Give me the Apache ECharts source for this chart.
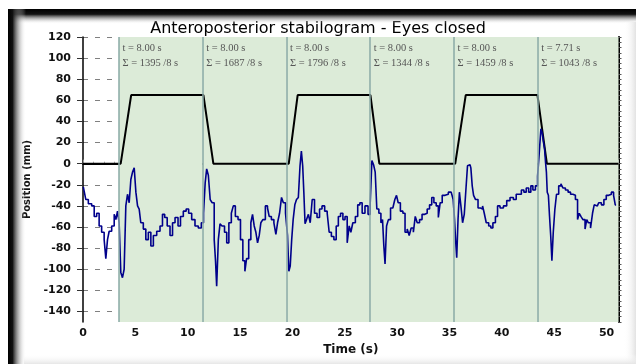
<!DOCTYPE html>
<html>
<head>
<meta charset="utf-8">
<script src="https://cdn.jsdelivr.net/npm/echarts@6/dist/echarts.min.js"></script>
<style>
  html, body { margin: 0; padding: 0; background: #fff; }
  #chart { width: 636px; height: 364px; }
</style>
</head>
<body>
<div id="chart"></div>
<script>
// sway signal (blue)
const sigT = [0.03, 0.19, 0.35, 0.67, 0.99, 1.15, 1.46, 1.62, 1.94, 2.10, 2.26, 2.42, 2.58, 2.90, 3.06, 3.22, 3.37, 3.53, 3.69, 3.85,
  4.01, 4.17, 4.33, 4.49, 4.65, 4.81, 4.97, 5.13, 5.29, 5.44, 5.60, 5.92, 6.08, 6.40, 6.56, 6.88, 7.20, 7.51, 7.67, 7.93,
  8.15, 8.47, 8.63, 8.95, 9.20, 9.42, 9.74, 9.96, 10.22, 10.54, 10.85, 11.17, 11.43, 11.59, 11.75, 11.87, 12.07, 12.22, 12.45, 12.61,
  12.70, 12.83, 13.02, 13.15, 13.40, 13.63, 13.82, 14.04, 14.29, 14.42, 14.68, 14.93, 15.15, 15.38, 15.54, 15.70, 15.95, 16.11, 16.27, 16.43,
  16.59, 16.75, 16.91, 17.06, 17.29, 17.54, 17.70, 17.86, 18.12, 18.34, 18.50, 18.66, 18.88, 19.04, 19.23, 19.45, 19.61, 19.71, 19.87, 19.99,
  20.15, 20.31, 20.47, 20.66, 20.79, 20.92, 21.04, 21.14, 21.27, 21.43, 21.62, 21.78, 22.00, 22.22, 22.48, 22.70, 22.95, 23.21, 23.43, 23.59,
  23.85, 24.07, 24.29, 24.48, 24.71, 24.93, 25.12, 25.34, 25.50, 25.66, 25.88, 26.14, 26.33, 26.55, 26.77, 27.09, 27.35, 27.51, 27.67, 27.83,
  27.98, 28.14, 28.37, 28.53, 28.68, 28.78, 28.91, 29.07, 29.26, 29.48, 29.70, 29.86, 30.02, 30.18, 30.44, 30.66, 30.85, 31.07, 31.23, 31.45,
  31.65, 31.81, 32.03, 32.25, 32.51, 32.76, 32.98, 33.21, 33.40, 33.62, 33.84, 34.03, 34.19, 34.42, 34.73, 35.05, 35.27, 35.43, 35.53, 35.63,
  35.75, 35.88, 36.01, 36.17, 36.33, 36.49, 36.64, 36.80, 36.96, 37.12, 37.22, 37.38, 37.60, 37.85, 38.08, 38.24, 38.40, 38.62, 38.87, 39.03,
  39.26, 39.51, 39.67, 39.99, 40.31, 40.62, 40.94, 41.26, 41.48, 41.74, 41.99, 42.22, 42.44, 42.69, 42.85, 43.08, 43.33, 43.49, 43.65, 43.81,
  43.90, 44.03, 44.13, 44.22, 44.29, 44.38, 44.51, 44.60, 44.73, 44.83, 44.99, 45.14, 45.30, 45.56, 45.72, 45.94, 46.20, 46.45, 46.67, 46.90,
  47.15, 47.31, 47.47, 47.63, 47.85, 48.04, 48.17, 48.36, 48.58, 48.74, 48.90, 49.12, 49.38, 49.63, 49.86, 50.08, 50.33, 50.59, 50.75, 50.91];
const sigV = [-22, -26, -34, -38, -40, -50, -47, -59, -65, -72, -90, -72, -64, -59, -48, -53, -45, -56, -103, -108,
  -100, -40, -29, -37, -15, -8, -4, -27, -40, -43, -56, -62, -72, -65, -78, -68, -64, -59, -48, -51,
  -59, -68, -56, -51, -59, -50, -45, -43, -47, -53, -59, -61, -56, -47, -18, -5, -11, -34, -37, -72,
  -92, -116, -72, -57, -59, -65, -75, -56, -47, -40, -50, -53, -72, -92, -102, -90, -72, -56, -48, -59,
  -65, -75, -68, -56, -53, -40, -42, -50, -53, -56, -67, -56, -47, -32, -37, -47, -68, -102, -97, -72,
  -53, -39, -34, -32, -2, 12, -2, -27, -57, -53, -48, -56, -34, -47, -51, -43, -40, -45, -47, -65,
  -69, -72, -59, -50, -47, -53, -50, -75, -59, -65, -56, -50, -39, -37, -47, -40, -48, -37, 3, -1,
  -8, -43, -47, -56, -53, -78, -95, -59, -53, -42, -43, -34, -30, -37, -45, -47, -65, -62, -68, -61,
  -65, -50, -56, -53, -48, -47, -43, -39, -32, -37, -40, -51, -37, -30, -29, -27, -26, -34, -53, -72,
  -89, -53, -27, -40, -56, -48, -25, -2, -1, -4, -21, -30, -34, -42, -43, -40, -47, -56, -59, -61,
  -56, -50, -40, -42, -40, -35, -32, -34, -29, -29, -25, -27, -23, -27, -21, -25, -21, -12, 10, 33,
  29, 21, 14, 1, -8, -27, -30, -50, -68, -92, -65, -43, -29, -21, -19, -23, -25, -27, -29, -30,
  -34, -53, -47, -50, -53, -62, -53, -56, -61, -47, -39, -40, -37, -39, -34, -30, -29, -27, -30, -39];

// target (black trapezoid)
const targetT = [0, 3.6, 4.6, 11.5, 12.45, 19.65, 20.5, 27.45, 28.3, 35.55, 36.55, 43.4, 44.3, 51.14];
const targetV = [0, 0, 65, 65, 0, 0, 65, 65, 0, 0, 65, 65, 0, 0];

// 8 s windows
const segStart = [3.43, 11.43, 19.43, 27.43, 35.43, 43.43];
const segDur = [8.00, 8.00, 8.00, 8.00, 8.00, 7.71];
const segSum = [1395, 1687, 1796, 1344, 1459, 1043];

const yTicks = [-140, -120, -100, -80, -60, -40, -20, 0, 20, 40, 60, 80, 100, 120];

const axisFont = { fontFamily: 'DejaVu Sans', fontSize: 11, fontWeight: 'bold', color: '#111' };

const chart = echarts.init(document.getElementById('chart'));

const targetData = targetT.map((t, i) => [t, targetV[i]]);

const option = {
  backgroundColor: '#fff',
  animation: false,
  title: {
    text: 'Anteroposterior stabilogram - Eyes closed',
    left: 'center',
    top: 16,
    textStyle: { fontFamily: 'DejaVu Sans', fontSize: 16, fontWeight: 'normal', color: '#000' },
  },
  graphic: [
    {
      type: 'rect', silent: true, z: 10,
      shape: { x: 8, y: 9, width: 628, height: 15 },
      style: {
        fill: new echarts.graphic.LinearGradient(0, 0, 0, 1, [
          { offset: 0, color: '#000' },
          { offset: 0.35, color: '#111' },
          { offset: 1, color: 'rgba(255,255,255,0)' },
        ]),
      },
    },
    {
      type: 'rect', silent: true, z: 10,
      shape: { x: 8, y: 9, width: 18, height: 355 },
      style: {
        fill: new echarts.graphic.LinearGradient(0, 0, 1, 0, [
          { offset: 0, color: '#000' },
          { offset: 0.25, color: '#111' },
          { offset: 1, color: 'rgba(255,255,255,0)' },
        ]),
      },
    },
    {
      type: 'rect', silent: true, z: 10,
      shape: { x: 624, y: 22, width: 12, height: 342 },
      style: {
        fill: new echarts.graphic.LinearGradient(0, 0, 1, 0, [
          { offset: 0, color: 'rgba(255,255,255,0)' },
          { offset: 1, color: '#e2e2e2' },
        ]),
      },
    },
    {
      type: 'rect', silent: true, z: 10,
      shape: { x: 24, y: 354, width: 612, height: 10 },
      style: {
        fill: new echarts.graphic.LinearGradient(0, 0, 0, 1, [
          { offset: 0, color: 'rgba(255,255,255,0)' },
          { offset: 1, color: '#e6e6e6' },
        ]),
      },
    },
  ],
  grid: {
    left: 83,
    right: 17.5,
    top: 37,
    bottom: 42,
  },
  xAxis: {
    type: 'value',
    min: 0,
    max: 51.14,
    interval: 5,
    name: 'Time (s)',
    nameLocation: 'middle',
    nameGap: 20,
    nameTextStyle: { fontFamily: 'DejaVu Sans', fontSize: 12, fontWeight: 'bold', color: '#111' },
    axisLine: { lineStyle: { color: '#000', width: 2 } },
    axisTick: { inside: true, length: 4, lineStyle: { color: '#999' } },
    minorTick: { show: true, splitNumber: 5, length: 2, lineStyle: { color: '#aaa' } },
    axisLabel: { margin: 6, showMaxLabel: false, ...axisFont },
    splitLine: { show: false },
  },
  yAxis: [
    {
      type: 'value',
      min: -150,
      max: 120,
      name: 'Position (mm)',
      nameLocation: 'middle',
      nameGap: 48,
      nameTextStyle: { fontFamily: 'DejaVu Sans', fontSize: 10, fontWeight: 'bold', color: '#111' },
      axisLine: { show: true, lineStyle: { color: '#000', width: 1.5 } },
      axisTick: { show: true, customValues: yTicks, length: 6, lineStyle: { color: '#333' } },
      axisLabel: { customValues: yTicks, margin: 12, ...axisFont },
      splitLine: { show: true, lineStyle: { color: '#808080', type: [5, 7] } },
    },
    {
      type: 'value',
      min: -150,
      max: 120,
      interval: 5,
      axisLine: { show: false },
      axisTick: { show: true, length: 3, lineStyle: { color: '#555' } },
      axisLabel: { show: false },
      splitLine: { show: false },
    },
    {
      type: 'value',
      position: 'right',
      min: -150,
      max: 120,
      axisLine: { show: true, lineStyle: { color: '#000', width: 2 } },
      axisTick: { show: false },
      axisLabel: { show: false },
      splitLine: { show: false },
    },
  ],
  series: [
    {
      // carrier for the window shading, separators and window texts
      type: 'line',
      z: 1,
      symbol: 'none',
      silent: true,
      clip: false,
      lineStyle: { opacity: 0 },
      data: targetData,
      markArea: {
        silent: true,
        itemStyle: { color: '#dcebd8', opacity: 1 },
        label: { show: false },
        data: segStart.map((s, i) => [{ xAxis: s }, { xAxis: s + segDur[i] }]),
      },
      markLine: {
        silent: true,
        symbol: 'none',
        label: { show: false },
        lineStyle: { color: '#8aaaa6', width: 1.5, type: 'solid' },
        data: segStart.map((s) => ({ xAxis: s })),
      },
      markPoint: {
        silent: true,
        symbol: 'rect',
        symbolSize: 1,
        itemStyle: { color: 'rgba(0,0,0,0)' },
        label: {
          show: true,
          position: [4, 4],
          align: 'left',
          verticalAlign: 'top',
          fontFamily: 'Liberation Serif',
          fontSize: 10.5,
          lineHeight: 15,
          color: '#555',
        },
        data: segStart.map((s, i) => ({
          coord: [s, 120],
          label: { formatter: 't = ' + segDur[i].toFixed(2) + ' s\nΣ = ' + segSum[i] + ' /8 s' },
        })),
      },
    },
    {
      name: 'target',
      type: 'line',
      z: 3,
      symbol: 'none',
      lineStyle: { color: '#000', width: 2 },
      data: targetData,
    },
    {
      name: 'position',
      type: 'line',
      z: 4,
      symbol: 'none',
      step: 'middle',
      lineStyle: { color: '#00008b', width: 1.6 },
      data: sigT.map((t, i) => [t, sigV[i]]),
    },
  ],
};

chart.setOption(option);
</script>
</body>
</html>
